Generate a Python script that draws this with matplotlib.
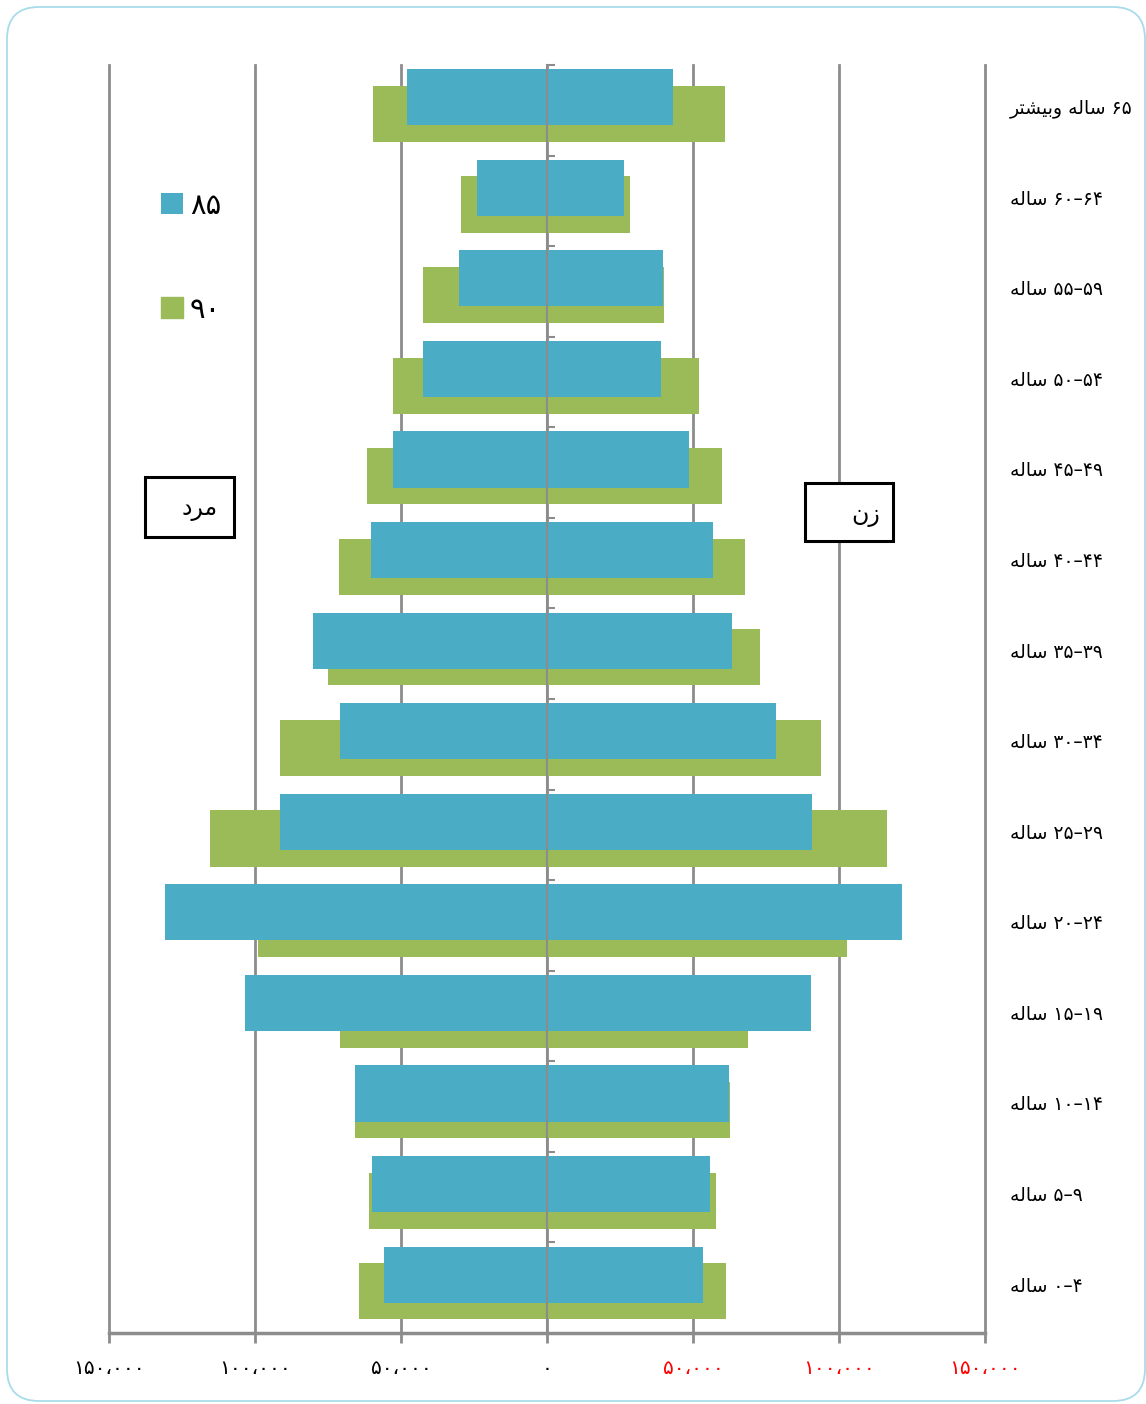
import matplotlib
matplotlib.use("Agg")
import matplotlib.pyplot as plt
from matplotlib.patches import Rectangle, FancyBboxPatch
from matplotlib.transforms import IdentityTransform
import numpy as np

# age groups, top to bottom (logical Persian text)
ages = ["۶۵ ساله وبیشتر", "۶۰–۶۴ ساله", "۵۵–۵۹ ساله", "۵۰–۵۴ ساله",
        "۴۵–۴۹ ساله", "۴۰–۴۴ ساله", "۳۵–۳۹ ساله", "۳۰–۳۴ ساله",
        "۲۵–۲۹ ساله", "۲۰–۲۴ ساله", "۱۵–۱۹ ساله", "۱۰–۱۴ ساله",
        "۵–۹ ساله", "۰–۴ ساله"]

male85 = [47900, 23900, 30300, 42600, 52600, 60400, 80200,
          71000, 91300, 130800, 103400, 65600, 59800, 55700]
female85 = [43200, 26500, 39600, 38900, 48800, 56700, 63400,
            78300, 90900, 121700, 90300, 62200, 55900, 53300]
male90 = [59700, 29500, 42600, 52900, 61800, 71200, 75100,
          91600, 115500, 99100, 70800, 65600, 61000, 64400]
female90 = [60900, 28500, 39900, 51900, 60100, 67800, 73100,
            93900, 116500, 102900, 68800, 62600, 58000, 61200]

series_labels = ["۸۵", "۹۰"]
x_ticks = [-150000, -100000, -50000, 0, 50000, 100000, 150000]

BLUE = "#4BACC6"
GREEN = "#9BBB59"
GRID = "#8C8C8C"

# matplotlib has no arabic shaping, so do a small one here
FORMS = {
    'ا': ('\uFE8D', '\uFE8E', None, None),
    'ب': ('\uFE8F', '\uFE90', '\uFE91', '\uFE92'),
    'ت': ('\uFE95', '\uFE96', '\uFE97', '\uFE98'),
    'د': ('\uFEA9', '\uFEAA', None, None),
    'ر': ('\uFEAD', '\uFEAE', None, None),
    'ز': ('\uFEAF', '\uFEB0', None, None),
    'س': ('\uFEB1', '\uFEB2', '\uFEB3', '\uFEB4'),
    'ش': ('\uFEB5', '\uFEB6', '\uFEB7', '\uFEB8'),
    'ل': ('\uFEDD', '\uFEDE', '\uFEDF', '\uFEE0'),
    'م': ('\uFEE1', '\uFEE2', '\uFEE3', '\uFEE4'),
    'ن': ('\uFEE5', '\uFEE6', '\uFEE7', '\uFEE8'),
    'ه': ('\uFEE9', '\uFEEA', '\uFEEB', '\uFEEC'),
    'و': ('\uFEED', '\uFEEE', None, None),
    'ی': ('\uFBFC', '\uFBFD', '\uFBFE', '\uFBFF'),
}


def shape_word(w):
    out = []
    for k, c in enumerate(w):
        f = FORMS.get(c)
        if f is None:
            out.append(c)
            continue
        prev = w[k - 1] if k > 0 else None
        nxt = w[k + 1] if k + 1 < len(w) else None
        join_prev = prev in FORMS and FORMS[prev][2] is not None
        join_next = f[2] is not None and nxt in FORMS
        if join_prev and join_next:
            out.append(f[3])
        elif join_prev:
            out.append(f[1])
        elif join_next:
            out.append(f[2])
        else:
            out.append(f[0])
    return ''.join(reversed(out))


def rtl(text):
    parts = text.split(' ')
    return ' '.join(shape_word(p) if any(ch in FORMS for ch in p) else p
                    for p in reversed(parts))


def fa_num(v):
    return f"{abs(v):,}".translate(str.maketrans("0123456789,", "۰۱۲۳۴۵۶۷۸۹،"))


plt.rcParams['font.family'] = ['DejaVu Sans']

W, H = 1146, 1404
fig = plt.figure(figsize=(W / 100, H / 100), dpi=100)

# outer rounded frame (pixel coords)
frame = FancyBboxPatch((7, 3), 1138, 1394,
                       boxstyle="round,pad=0,rounding_size=32",
                       transform=IdentityTransform(), fill=False,
                       edgecolor="#A9DCEB", linewidth=1.3)
fig.patches.append(frame)

ax = fig.add_axes([109 / W, 1 - 1333 / H, 876 / W, 1268 / H])

n = len(ages)
pos = np.arange(n)
bh = 0.62
ax.barh(pos + 0.04, -np.array(male90), height=bh, color=GREEN, zorder=2)
ax.barh(pos + 0.04, female90, height=bh, color=GREEN, zorder=2)
b1 = ax.barh(pos - 0.145, -np.array(male85), height=bh, color=BLUE, zorder=3)
ax.barh(pos - 0.145, female85, height=bh, color=BLUE, zorder=3)

ax.set_xlim(-150000, 150000)
ax.set_ylim(n - 0.5, -0.5)

# x axis
ax.set_xticks(x_ticks)
ax.set_xticklabels([fa_num(v) for v in x_ticks])
for v, lab in zip(x_ticks, ax.get_xticklabels()):
    lab.set_color("red" if v > 0 else "black")
ax.tick_params(axis='x', direction='out', length=7, width=2, color=GRID,
               pad=12, labelsize=14.5)
ax.grid(axis='x', color=GRID, linewidth=2, zorder=1)
ax.set_axisbelow(True)
for gl in ax.get_xgridlines():
    gl.set_clip_on(False)

# y axis: labels on the right, small ticks on centre line
ax.set_yticks(pos - 0.04)
ax.set_yticklabels([rtl(a) for a in ages])
ax.set_yticks(np.arange(n) - 0.5, minor=True)
ax.tick_params(axis='y', which='major', left=False, right=False,
               labelleft=False, labelright=True, pad=14.5, labelsize=13.5)
ax.tick_params(axis='y', which='minor', left=True, right=False,
               direction='in', length=6, width=1.5, color=GRID)

for s in ['top', 'right']:
    ax.spines[s].set_visible(False)
ax.spines['left'].set_position(('data', 0))
ax.spines['left'].set_color(GRID)
ax.spines['left'].set_linewidth(1.5)
ax.spines['left'].set_zorder(4)
ax.spines['bottom'].set_color(GRID)
ax.spines['bottom'].set_linewidth(2.5)

# legend
green_handle = Rectangle((0, 0), 1, 1, color=GREEN)
ax.legend([b1, green_handle], series_labels, loc='upper left',
          bbox_to_anchor=(0.059, 0.90), frameon=False, fontsize=21,
          handlelength=0.75, handleheight=0.75, handletextpad=0.25,
          labelspacing=2.6, borderpad=0, borderaxespad=0)

# boxed labels for men / women
ax.add_patch(Rectangle((0.0411, 0.628), 0.1016, 0.047, transform=ax.transAxes,
                       facecolor='white', edgecolor='black', linewidth=2.2,
                       zorder=5, clip_on=False))
ax.text(0.104, 0.650, rtl("مرد"), transform=ax.transAxes, fontsize=17,
        ha='center', va='center', zorder=6)
ax.add_patch(Rectangle((0.7945, 0.6245), 0.1005, 0.046, transform=ax.transAxes,
                       facecolor='white', edgecolor='black', linewidth=2.2,
                       zorder=5, clip_on=False))
ax.text(0.864, 0.645, rtl("زن"), transform=ax.transAxes, fontsize=17,
        ha='center', va='center', zorder=6)

fig.savefig("out.png", dpi=100)
